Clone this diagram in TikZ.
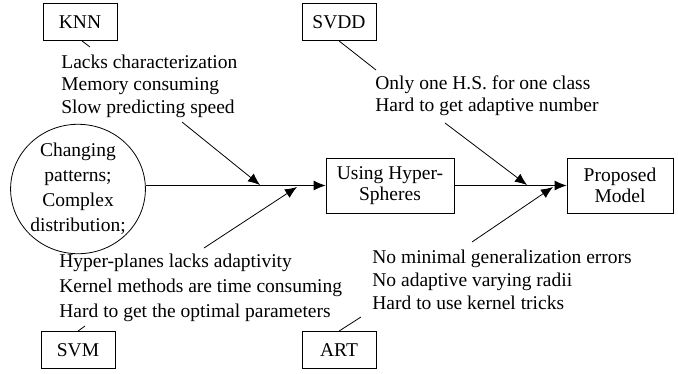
\documentclass[tikz,border=0pt]{standalone}
\usepackage{fontspec}
\setmainfont{Liberation Serif}
\usetikzlibrary{shapes.geometric,arrows.meta}

\begin{document}
\begin{tikzpicture}[x=1pt,y=-1pt,>={Latex[length=12pt,width=10pt]},line width=0.8pt,
  font=\fontsize{19.5}{23}\selectfont,
  box/.style={draw,rectangle,minimum width=74pt,minimum height=37pt,inner sep=0pt},
  model/.style={draw,rectangle,minimum height=55pt,inner sep=0pt,align=center,
    font=\fontsize{19.5}{21.5}\selectfont},
  remark/.style={align=left,inner sep=0pt,anchor=west}]
\useasboundingbox (0,0) rectangle (678,373);

% method boxes
\node[box] (knn) at (80,22) {KNN};
\node[box] (svdd) at (339,22) {SVDD};
\node[box] (svm) at (78,350) {SVM};
\node[box] (art) at (339,350) {ART};

% input and models
\node[draw,ellipse,minimum width=130pt,minimum height=118pt,inner sep=0pt,align=center,
  font=\fontsize{19.5}{25}\selectfont] (chg) at (78,189)
  {Changing\\patterns;\\Complex\\distribution;};
\node[model,minimum width=128pt] (hs) at (390,185.5) {Using Hyper-\\Spheres};
\node[model,minimum width=106pt] (pm) at (620,185.5) {Proposed\\Model};

% drawbacks
\node[remark,font=\fontsize{19.5}{22.5}\selectfont] (knntxt) at (61,86)
  {Lacks characterization\\Memory consuming\\Slow predicting speed};
\node[remark,font=\fontsize{19.5}{22}\selectfont] (svddtxt) at (375,96)
  {Only one H.S. for one class\\Hard to get adaptive number};
\node[remark,font=\fontsize{19.5}{25}\selectfont] (svmtxt) at (59,288)
  {Hyper-planes lacks adaptivity\\Kernel methods are time consuming\\Hard to get the optimal parameters};
\node[remark,font=\fontsize{19.5}{23}\selectfont] (arttxt) at (372,280)
  {No minimal generalization errors\\No adaptive varying radii\\Hard to use kernel tricks};

% short links from boxes
\coordinate (knnend) at (90,47);
\coordinate (svddend) at (376,70);
\coordinate (svmend) at (85,326);
\coordinate (artend) at (361,317);
\draw ([xshift=2pt]knn.south) -- (knnend);
\draw (svdd.south) -- (svddend);
\draw (svm.north) -- (svmend);
\draw (art.north) -- (artend);

% main flow
\draw[->] (chg.east |- hs.west) -- (hs.west);
\draw[->] (hs.east) -- (pm.west);

% drawbacks into the flow
\coordinate (knnfrom) at (182,122);
\coordinate (knnto) at (260,185);
\coordinate (svmfrom) at (204,248);
\coordinate (svmto) at (297,187);
\coordinate (svddfrom) at (445,123);
\coordinate (svddto) at (527,185);
\coordinate (artfrom) at (472,242);
\coordinate (artto) at (553,187);
\draw[->] (knnfrom) -- (knnto);
\draw[->] (svmfrom) -- (svmto);
\draw[->] (svddfrom) -- (svddto);
\draw[->] (artfrom) -- (artto);

\end{tikzpicture}
\end{document}
